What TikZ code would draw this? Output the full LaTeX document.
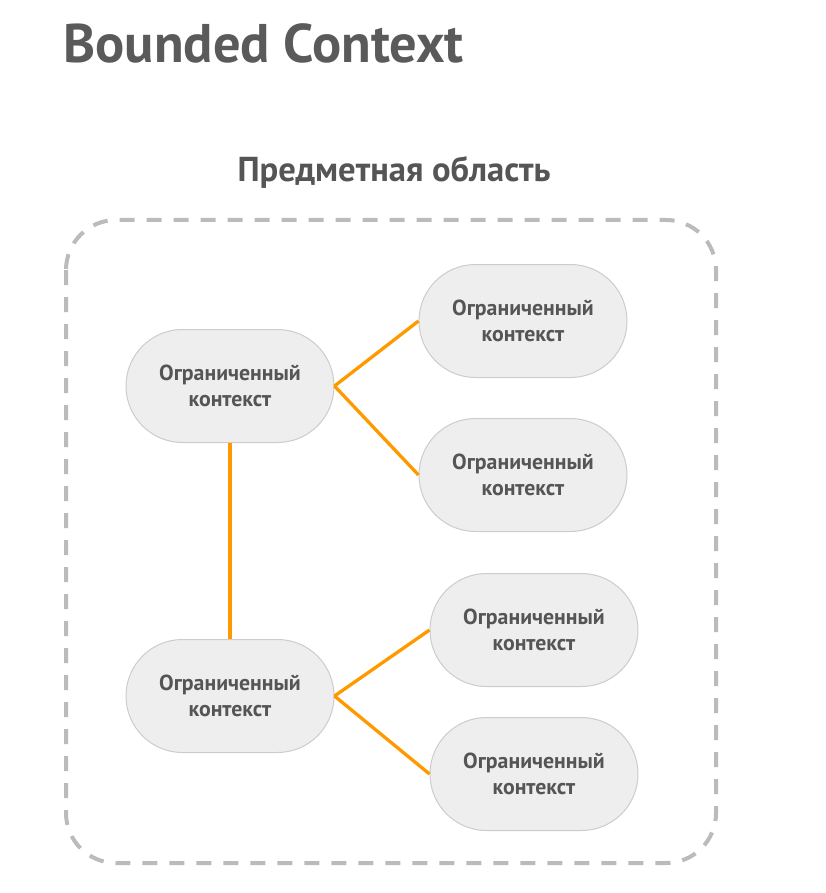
\documentclass[tikz,border=0pt]{standalone}
\usepackage{fontspec}
\setmainfont{PT Sans}
\usetikzlibrary{shapes.misc}
\definecolor{txt}{HTML}{555555}
\definecolor{ttl}{HTML}{5A5A5A}
\definecolor{bc}{HTML}{CCCCCC}
\definecolor{bf}{HTML}{EEEEEE}
\definecolor{dashc}{HTML}{BBBBBB}
\definecolor{org}{HTML}{FF9900}
\tikzset{
  ctx/.style={rounded rectangle, draw=bc, fill=bf, line width=1pt,
    minimum width=208pt, minimum height=113pt, inner sep=0pt,
    text=txt, font=\fontsize{21.8}{26}\selectfont\bfseries, align=center},
  link/.style={draw=org, line width=3.3pt},
  areabox/.style={draw=dashc, line width=4pt, dash pattern=on 15pt off 12pt, rounded corners=50pt}
}
\begin{document}
\begin{tikzpicture}[x=1pt,y=-1pt]
\useasboundingbox (0,0) rectangle (825,893);
\node[anchor=west, text=ttl, font=\fontsize{54.4}{60}\selectfont\bfseries] (title) at (60,43) {Bounded Context};
\node[text=txt, font=\fontsize{34.6}{40}\selectfont\bfseries] (sub) at (394,172) {Предметная область};
\draw[areabox] (66,220) rectangle (716,863);
\node[ctx] (a) at (230,386) {Ограниченный\\контекст};
\node[ctx] (b) at (230,696) {Ограниченный\\контекст};
\node[ctx] (a1) at (523,321) {Ограниченный\\контекст};
\node[ctx] (a2) at (523,475) {Ограниченный\\контекст};
\node[ctx] (b1) at (534,630) {Ограниченный\\контекст};
\node[ctx] (b2) at (534,774) {Ограниченный\\контекст};
\draw[link] (a.east) -- (a1.west);
\draw[link] (a.east) -- (a2.west);
\draw[link] (a.south) -- (b.north);
\draw[link] (b.east) -- (b1.west);
\draw[link] (b.east) -- (b2.west);
\end{tikzpicture}
\end{document}
